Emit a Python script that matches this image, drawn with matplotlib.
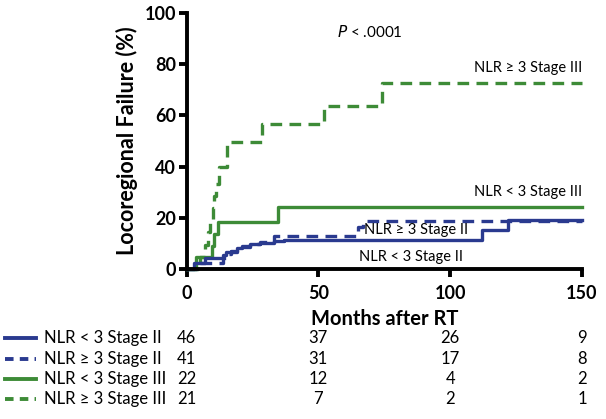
import numpy as np
import matplotlib
matplotlib.use('Agg')
import matplotlib.pyplot as plt
from matplotlib.lines import Line2D

plt.rcParams['font.family'] = ['Lato', 'DejaVu Sans']

BLUE = '#2a3a8f'
GREEN = '#3d8b37'

# step curves (month, cumulative failure %)
lo2_t = [0, 3, 7, 14, 15, 17, 19, 21, 24, 28, 33, 37, 112, 122, 150]
lo2_y = [0, 2.2, 4.3, 5.5, 6.5, 7.2, 8.2, 8.9, 9.6, 10.3, 10.8, 11.2, 15.2, 19.2, 19.2]
hi2_t = [0, 4, 14, 15, 17, 19, 21, 24, 28, 33, 65, 67, 150]
hi2_y = [0, 2.4, 4.4, 5.8, 6.8, 7.8, 8.7, 9.6, 10.6, 12.9, 16.5, 18.8, 18.8]
lo3_t = [0, 3.5, 9.5, 10.5, 12, 34.7, 150]
lo3_y = [0, 4.5, 9.1, 13.6, 18.4, 24.3, 24.3]
hi3_t = [0, 5, 7, 8, 9, 10, 10.5, 11, 12.3, 15.5, 28.5, 52, 74, 150]
hi3_y = [0, 4.8, 9.5, 14.3, 19.0, 23.8, 28.6, 33.3, 39.7, 49.5, 56.5, 63.5, 72.7, 72.7]

# number at risk table
risk_months = [0, 50, 100, 150]
risk_labels = ['NLR < 3 Stage II', 'NLR \u2265 3 Stage II', 'NLR < 3 Stage III', 'NLR \u2265 3 Stage III']
risk_lo2 = [46, 37, 26, 9]
risk_hi2 = [41, 31, 17, 8]
risk_lo3 = [22, 12, 4, 2]
risk_hi3 = [21, 7, 2, 1]

fig = plt.figure(figsize=(6.06, 4.19), dpi=100)
ax = fig.add_axes([0.3078, 0.358, 0.6526, 0.611])

lw = 2.4
ax.step(lo3_t, lo3_y, where='post', color=GREEN, lw=lw, clip_on=False)
ax.step(hi3_t, hi3_y, where='post', color=GREEN, lw=lw, ls=(0, (3.5, 2.2)), clip_on=False)
ax.step(lo2_t, lo2_y, where='post', color=BLUE, lw=lw, clip_on=False)
ax.step(hi2_t, hi2_y, where='post', color=BLUE, lw=lw, ls=(0, (3.5, 2.2)), clip_on=False)

ax.set_xlim(0, 150)
ax.set_ylim(0, 100)
ax.set_xticks([0, 50, 100, 150])
ax.set_yticks([0, 20, 40, 60, 80, 100])
for s in ['top', 'right']:
    ax.spines[s].set_visible(False)
for s in ['left', 'bottom']:
    ax.spines[s].set_linewidth(2.8)
ax.tick_params(width=2.8, length=5.5, labelsize=13)
ax.tick_params(axis='x', pad=6)
ax.tick_params(axis='y', pad=2)
for lab in ax.get_xticklabels() + ax.get_yticklabels():
    lab.set_fontweight('bold')
ax.set_xlabel('Months after RT', fontsize=14.5, fontweight='bold', labelpad=5)
ax.set_ylabel('Locoregional Failure (%)', fontsize=15.5, fontweight='bold', labelpad=5)

ax.text(57, 92.5, r'$P$ < .0001', fontsize=11, va='center', ha='left')
ax.text(150, 78.5, 'NLR \u2265 3 Stage III', fontsize=10.5, ha='right', va='center')
ax.text(150, 30.2, 'NLR < 3 Stage III', fontsize=10.5, ha='right', va='center')
ax.text(87, 15.2, 'NLR \u2265 3 Stage II', fontsize=10.5, ha='center', va='center')
ax.text(85, 4.8, 'NLR < 3 Stage II', fontsize=10.5, ha='center', va='center')

# number-at-risk rows
rows = [risk_lo2, risk_hi2, risk_lo3, risk_hi3]
row_colors = [BLUE, BLUE, GREEN, GREEN]
row_styles = ['-', (0, (2.2, 1.6)), '-', (0, (2.2, 1.6))]
row_y = [338, 359, 379, 399]
H = 419.0
W = 606.0
tr = ax.get_xaxis_transform()
for vals, lab, col, st, yp in zip(rows, risk_labels, row_colors, row_styles, row_y):
    yf = 1 - yp / H
    fig.add_artist(Line2D([5 / W, 36 / W], [yf, yf], color=col, lw=2.8, ls=st,
                          transform=fig.transFigure))
    fig.text(44 / W, yf, lab, fontsize=12, va='center', ha='left')
    for m, v in zip(risk_months, vals):
        ax.annotate(str(v), xy=(m, 0), xycoords=tr,
                    xytext=(m, yf), textcoords=('data', 'figure fraction'),
                    fontsize=12, ha='center', va='center', annotation_clip=False)

fig.savefig('out.png', dpi=100)
